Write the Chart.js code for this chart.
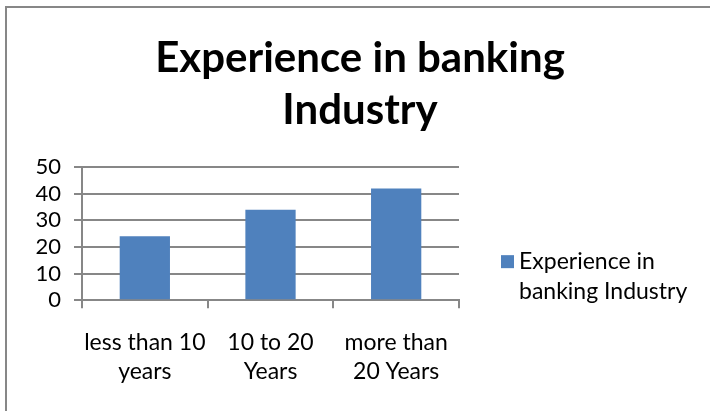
<!DOCTYPE html>
<html>
<head>
<meta charset="utf-8">
<script src="https://cdn.jsdelivr.net/npm/chart.js@4"></script>
<style>
  html, body { margin: 0; padding: 0; background: #fff; }
  #wrap { position: relative; width: 710px; height: 411px; }
  #frame { position: absolute; left: 5px; top: 6px; right: 0; bottom: 0;
           border-top: 2px solid #878787; border-left: 2px solid #878787; pointer-events: none; }
</style>
</head>
<body>
<div id="wrap">
  <canvas id="chartExperience" width="710" height="411"></canvas>
  <div id="frame"></div>
</div>
<script>
// data
const categories = [['less than 10', 'years'], ['10 to 20', 'Years'], ['more than', '20 Years']];
const values = [24, 34, 42];
const seriesName = 'Experience in banking Industry';
const legendLines = ['Experience in', 'banking Industry'];
const yTicks = [0, 10, 20, 30, 40, 50];

const barColor = '#4f81bd';
const gridColor = '#878787';
const fontFamily = 'Lato, "Open Sans", sans-serif';

// legend drawn by hand because the text wraps over two lines
const sideLegend = {
    id: 'sideLegend',
    afterDraw(chart) {
        const ctx = chart.ctx;
        const x = chart.chartArea.right + 42;
        const y = chart.chartArea.top + 94;
        ctx.save();
        ctx.fillStyle = barColor;
        ctx.fillRect(x, y - 6, 13, 13);
        ctx.fillStyle = '#000';
        ctx.font = '23px ' + fontFamily;
        ctx.textBaseline = 'middle';
        ctx.textAlign = 'left';
        legendLines.forEach((line, i) => {
            ctx.fillText(line, x + 18, y + i * 30);
        });
        ctx.restore();
    }
};

const ctx = document.getElementById('chartExperience').getContext('2d');
const myChart = new Chart(ctx, {
    type: 'bar',
    data: {
        labels: categories,
        datasets: [{
            label: seriesName,
            data: values,
            backgroundColor: barColor,
            borderWidth: 0,
            barPercentage: 0.4,
            categoryPercentage: 1.0
        }]
    },
    options: {
        responsive: false,
        animation: false,
        layout: { padding: { left: 10, right: 0, top: 0, bottom: 5 } },
        plugins: {
            legend: { display: false },
            tooltip: { enabled: false },
            title: {
                display: true,
                text: ['Experience in banking', 'Industry'],
                color: '#000',
                font: { family: fontFamily, size: 42, weight: 'bold', lineHeight: 1.24 },
                padding: { top: 32, bottom: 31 }
            }
        },
        scales: {
            x: {
                grid: {
                    offset: true,
                    drawOnChartArea: false,
                    drawTicks: true,
                    tickLength: 8,
                    color: gridColor,
                    lineWidth: 2
                },
                border: { color: gridColor, width: 2 },
                ticks: {
                    color: '#000',
                    font: { family: fontFamily, size: 23, lineHeight: 1.3 },
                    padding: 19,
                    maxRotation: 0,
                    autoSkip: false
                }
            },
            y: {
                min: yTicks[0],
                max: yTicks[yTicks.length - 1],
                afterFit(scale) { scale.width = 72; },
                afterBuildTicks(scale) { scale.ticks = yTicks.map(v => ({ value: v })); },
                grid: { color: gridColor, lineWidth: 2, tickLength: 8 },
                border: { color: gridColor, width: 2 },
                ticks: {
                    color: '#000',
                    font: { family: fontFamily, size: 22 },
                    padding: 13,
                    autoSkip: false
                }
            },
            // empty right-hand axis that keeps room for the legend
            side: {
                position: 'right',
                afterFit(scale) { scale.width = 251; },
                grid: { display: false },
                border: { display: false },
                ticks: { display: false }
            }
        }
    },
    plugins: [sideLegend]
});
</script>
</body>
</html>
